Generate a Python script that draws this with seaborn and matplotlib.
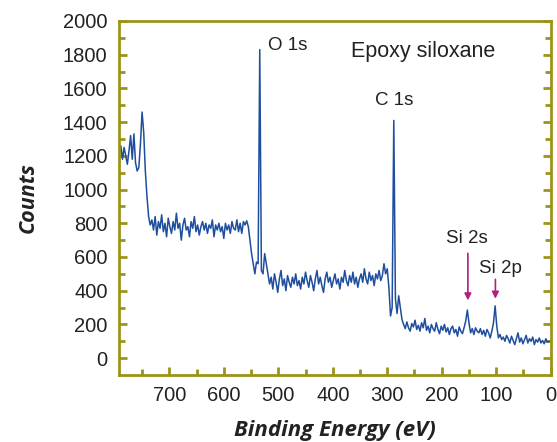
import numpy as np
import seaborn as sns
import matplotlib.pyplot as plt

# survey spectrum (3 eV steps from 792 eV down)
counts = [
    1210, 1260, 1180, 1250, 1200, 1150, 1230, 1320, 1180, 1330,
    1160, 1110, 1130, 1270, 1460, 1340, 1110, 960, 840,
    790, 820, 760, 840, 730, 810, 770, 850, 750, 800,
    720, 830, 780, 740, 810, 760, 860, 770, 800, 700,
    790, 830, 760, 780, 720, 810, 770, 840, 750, 790,
    730, 780, 810, 760, 800, 740, 790, 770, 820, 720,
    790, 760, 800, 750, 780, 710, 800, 760, 790, 740,
    810, 770, 760, 820, 750, 800, 740, 810, 790, 815,
    780, 700, 620, 560, 500, 570, 560, 1830, 520, 500,
    620, 560, 500,
    440, 480, 410, 500, 450, 390, 470, 520, 430, 470,
    400, 490, 450, 420, 480, 440, 500, 430, 460, 410,
    480, 440, 510, 460, 420, 490, 450, 400, 470, 520,
    440, 480, 430, 390, 470, 510, 450, 480, 420, 460,
    500, 440, 470, 410, 480, 450, 520, 460, 430, 490,
    450, 510, 440, 480, 420, 470, 500, 450, 530, 470,
    440, 510, 460, 490, 430, 500, 470, 520, 460, 490,
    560, 500, 530, 420, 250, 300, 1410, 350, 265, 370,
    300, 230,
    200, 175, 215, 180, 160, 205, 185, 225, 170, 195,
    160, 210, 180, 235, 165, 190, 150, 200, 175, 160,
    210, 170, 145, 190, 165, 200, 155, 180, 140, 175,
    190, 150, 170, 130, 185, 160, 145, 180, 220, 285,
    210, 150, 175, 140, 180, 160, 150, 175, 140, 165,
    130, 170, 150, 120, 160, 210, 310, 190, 120, 140,
    110, 125, 100, 135, 115, 90, 130, 105, 80, 115,
    150, 95, 120, 85, 110, 135, 90, 115, 100, 125,
    80, 110, 95, 120, 90, 105, 85, 115, 95, 100,
]
energy = 792 - 3 * np.arange(len(counts))

peak_labels = ["O 1s", "C 1s", "Si 2s", "Si 2p"]
label_x = [483, 287, 154, 93]
label_y = [1856, 1526, 707, 533]
arrow_x = [152, 101.5]
arrow_from = [638, 484]
arrow_to = [326, 336]

sns.set_theme(style="white")
plt.rcParams['font.family'] = ['Liberation Sans', 'DejaVu Sans']

frame = '#9c9418'
fig, ax = plt.subplots(figsize=(5.57, 4.42), dpi=100)
sns.lineplot(x=energy, y=counts, ax=ax, color='#1f4e9e', linewidth=1.1,
             estimator=None, sort=False)

ax.set_xlim(793, 0)
ax.set_ylim(-100, 2000)
ax.set_xticks(range(700, -1, -100))
ax.set_xticks(range(750, 0, -100), minor=True)
ax.set_yticks(range(0, 2001, 200))
ax.set_yticks(range(100, 2000, 200), minor=True)

for s in ax.spines.values():
    s.set_color(frame)
    s.set_linewidth(2)
ax.tick_params(which='both', direction='in', color=frame, width=2,
               labelsize=14.5, labelcolor='#222222', pad=8)
ax.tick_params(which='major', length=6)
ax.tick_params(which='minor', length=4)
ax.tick_params(axis='y', which='both', right=True, left=True)
ax.tick_params(axis='x', which='both', bottom=True, top=False)

for t, x, y in zip(peak_labels, label_x, label_y):
    ax.text(x, y, t, ha='center', va='center', fontsize=13.5, color='#222222')
ax.text(235, 1822, "Epoxy siloxane", ha='center', va='center', fontsize=15.5,
        color='#222222')

for x, y0, y1 in zip(arrow_x, arrow_from, arrow_to):
    ax.annotate("", xy=(x, y1), xytext=(x, y0),
                arrowprops=dict(arrowstyle='-|>', color='#b0207f', lw=1.2,
                                mutation_scale=10))

lab = dict(family=['Open Sans', 'DejaVu Sans'], fontweight='bold',
           fontstyle='italic', color='#222222')
ax.set_xlabel("Binding Energy (eV)", fontsize=16, **lab)
ax.set_ylabel("Counts", fontsize=15.5, **lab)
ax.xaxis.set_label_coords(0.5, -0.127)
ax.yaxis.set_label_coords(-0.185, 0.5)

plt.subplots_adjust(left=0.213, right=0.9887, top=0.9525, bottom=0.1516)
plt.savefig('out.png')
plt.close('all')
